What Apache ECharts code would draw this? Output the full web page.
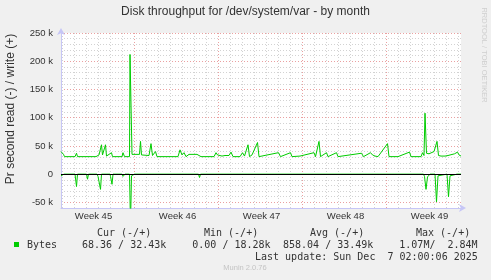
<!DOCTYPE html>
<html>
<head>
<meta charset="utf-8">
<script src="https://cdn.jsdelivr.net/npm/echarts@6/dist/echarts.min.js"></script>
<style>
html,body{margin:0;padding:0;background:#f0f0f0;}
#c{width:491px;height:280px;}
</style>
</head>
<body>
<div id="c"></div>
<script>
// time axis in hours since left edge of the plot (month view), values in k (1000 bytes/s)
var writeHours = [0,2,5,7,28,31,33,70,72,76,78,81,83,85,89,91,94,101,103,122,124,127,137,138,140,142,157,159,161,176,180,183,189,192,234,238,242,246,250,256,272,276,280,306,310,313,315,322,328,332,336,340,344,358,363,367,370,374,377,382,386,393,396,435,439,459,462,478,482,506,509,516,519,531,534,551,554,601,605,619,623,628,634,653,656,674,678,697,700,720,723,726,728,731,736,740,746,749,752,755,760,768,774,787,793,796,800];
var writeValues = [40,41,35,31,31,37,31,31,33,34,33,52,34,33,52,32,31,38,31,31,38,31,31,212,212,35,35,58,34,33,54,33,40,31,31,43,34,38,31,35,35,32,31,31,38,34,31,32,33,31,33,39,31,31,38,32,31,52,31,34,35,56,31,38,31,38,31,32,31,38,31,58,31,38,31,38,31,37,31,38,34,32,31,54,31,31,33,39,31,31,38,33,108,37,36,37,40,42,58,33,32,32,33,36,39,34,32];
var readHours = [0,3,6,28,31,33,51,53,55,72,74,76,79,81,98,99,102,104,122,124,126,128,137,139,141,144,147,275,277,279,725,727,730,733,736,738,748,751,754,757,772,775,778,781,792,793,795,800];
var readValues = [-3,-5,0,0,-22,0,0,-9,0,0,-4,-2,-27,0,0,-4,-18,0,0,-4,-2,0,0,-90,-3,-4,0,0,-6,0,0,-4,-27,-5,-2,0,0,-49,-3,0,0,-40,-3,0,0,-2,0,0];

var dayLines = [3,27,51,75,99,123,147,171,195,219,243,267,291,315,339,363,387,411,435,459,483,507,531,555,579,603,627,651,675,699,723,747,771,795];
var weekLabelPos = [65,233,401,569,737];
var weekNames = ['Week 45','Week 46','Week 47','Week 48','Week 49'];
var yLabelVals = [-50,0,50,100,150,200,250];

var legendHeads = ['Cur (-/+)','Min (-/+)','Avg (-/+)','Max (-/+)'];
var legendName = 'Bytes';
var legendVals = ['68.36 / 32.43k','0.00 / 18.28k','858.04 / 33.49k','1.07M/  2.84M'];
var lastUpdate = 'Last update: Sun Dec  7 02:00:06 2025';

function pairs(h, v){ return h.map(function(x,i){ return [x, v[i]]; }); }

var red = 'rgba(225,120,120,0.7)';
var grey = 'rgba(195,195,195,0.75)';
var xGridColors = [grey,grey,grey,grey,grey,grey,red];
var yGridColors = [grey,red,grey,grey,grey];
var axisBlue = '#c6c6f6';
var mono = '"DejaVu Sans Mono", monospace';
var sans = '"Liberation Sans", Arial, sans-serif';

var headX = [97,204,310,416];
var valX = [82,192.3,283,399.3];

var graphics = [
  {type:'text', x:245.5, y:12, style:{text:'Disk throughput for /dev/system/var - by month', font:'12px '+sans, fill:'#333', align:'center', verticalAlign:'middle'}},
  {type:'text', x:11, y:109, rotation:Math.PI/2, style:{text:'Pr second read (-) / write (+)', font:'12px '+sans, fill:'#333', align:'center', verticalAlign:'middle'}},
  {type:'text', x:484, y:55, rotation:-Math.PI/2, style:{text:'RRDTOOL / TOBI OETIKER', font:'7.5px '+sans, fill:'#cfcfcf', align:'center', verticalAlign:'middle'}},
  {type:'text', x:245, y:268, style:{text:'Munin 2.0.76', font:'7.5px '+sans, fill:'#c4c4c4', align:'center', verticalAlign:'middle'}},
  {type:'rect', shape:{x:14, y:242, width:5, height:5}, style:{fill:'#00cc00'}},
  {type:'text', x:27, y:245, style:{text:legendName, font:'10px '+mono, fill:'#333', verticalAlign:'middle'}},
  {type:'text', x:255, y:257, style:{text:lastUpdate, font:'10px '+mono, fill:'#333', verticalAlign:'middle'}}
];
legendHeads.forEach(function(t,i){
  graphics.push({type:'text', x:headX[i], y:233, style:{text:t, font:'10px '+mono, fill:'#333', verticalAlign:'middle'}});
});
legendVals.forEach(function(t,i){
  graphics.push({type:'text', x:valX[i], y:245, style:{text:t, font:'10px '+mono, fill:'#333', verticalAlign:'middle'}});
});

var chart = echarts.init(document.getElementById('c'), null, {renderer:'canvas'});
chart.setOption({
  animation:false,
  backgroundColor:'#f0f0f0',
  grid:{left:61, top:33, width:400, height:175, show:true, backgroundColor:'#ffffff', borderWidth:0, containLabel:false},
  xAxis:{
    type:'value', min:0, max:800,
    axisLine:{show:true, onZero:false, lineStyle:{color:axisBlue, width:1}, symbol:['none','arrow'], symbolSize:[6,7], symbolOffset:[0,5]},
    axisTick:{show:false, customValues:dayLines},
    axisLabel:{customValues:weekLabelPos, formatter:function(v){ return weekNames[weekLabelPos.indexOf(v)]; }, color:'#333', fontFamily:sans, fontSize:9.5, margin:3},
    splitLine:{show:true, lineStyle:{color:xGridColors, type:[1,2], width:1}}
  },
  yAxis:{
    type:'value', min:-60, max:250, interval:10,
    axisLine:{show:true, lineStyle:{color:axisBlue, width:1}, symbol:['none','arrow'], symbolSize:[6,7], symbolOffset:[0,5]},
    axisTick:{show:false},
    axisLabel:{customValues:yLabelVals, formatter:function(v){ return v===0 ? '0' : v+' k'; }, color:'#333', fontFamily:sans, fontSize:9.5, margin:8},
    splitLine:{show:true, lineStyle:{color:yGridColors, type:[1,2], width:1}}
  },
  series:[
    {type:'line', name:'write', data:pairs(writeHours, writeValues), symbol:'none', clip:true, lineStyle:{color:'#00cc00', width:1}, z:3},
    {type:'line', name:'read', data:pairs(readHours, readValues), symbol:'none', clip:true, lineStyle:{color:'#00cc00', width:1}, z:3,
     markLine:{silent:true, symbol:'none', label:{show:false}, lineStyle:{color:'#000', width:1, type:'solid'}, data:[{yAxis:0}], z:5}}
  ],
  graphic:graphics
});
</script>
</body>
</html>
